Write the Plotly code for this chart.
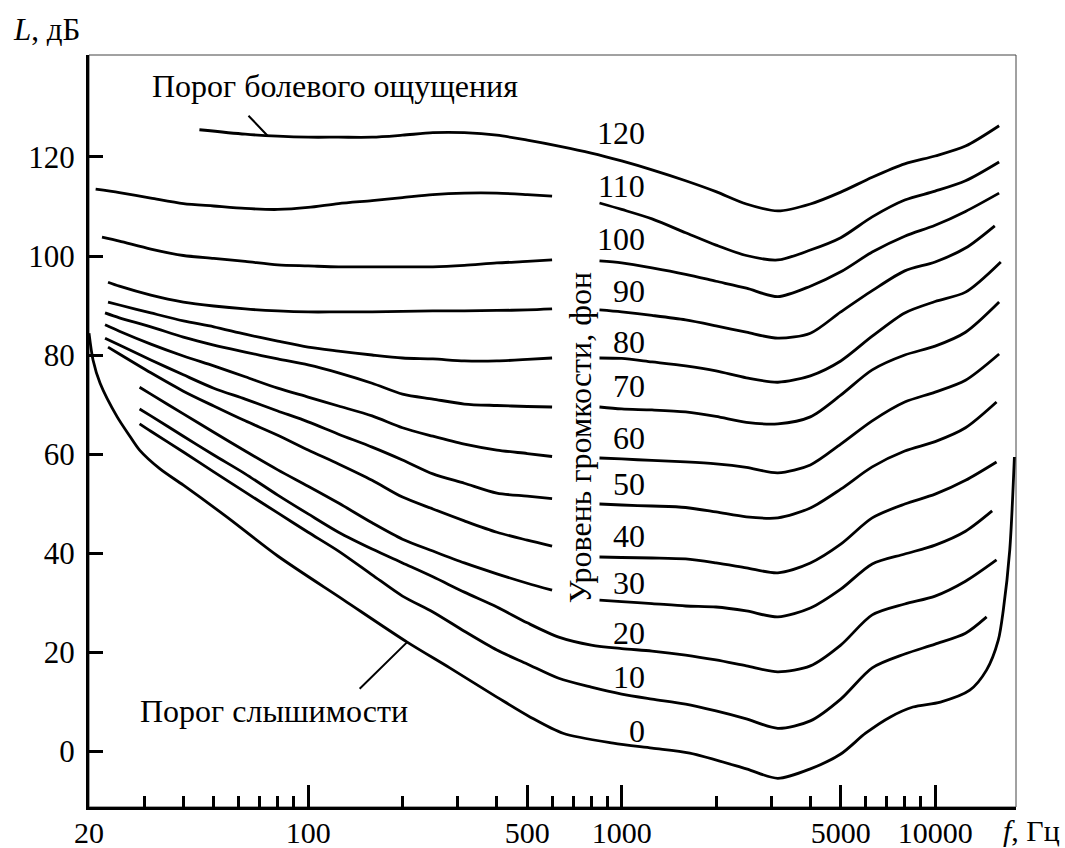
import math
import plotly.graph_objects as go

FONT = "Liberation Serif"

# ---------------- data (frequency in Hz, sound level in dB) ----------------
GL = [25, 31.5, 40, 50, 63, 80, 100, 125, 160, 200, 250, 315, 400, 500, 600]
GR = [850, 1000, 1250, 1600, 2000, 2500, 3150, 4000, 5000, 6300, 8000, 10000, 12500]

freq_120 = [45, 63, 80, 100, 125, 160, 200, 250, 315, 400, 500, 630, 800, 1000, 1250,
            1600, 2000, 2500, 3150, 4000, 5000, 6300, 8000, 10000, 12500, 16000]
level_120 = [125.5, 124.6, 124.2, 124.0, 124.0, 124.0, 124.4, 124.9, 124.9, 124.4, 123.4,
             122.2, 120.8, 119.2, 117.4, 115.2, 113.0, 110.5, 109.1, 110.5, 112.9, 115.9,
             118.6, 120.2, 122.2, 126.3]

freq_110 = [21] + GL + [None] + GR + [16000]
level_110 = [113.5, 112.8, 111.7, 110.6, 110.1, 109.6, 109.4, 109.8, 110.6, 111.2, 111.8,
             112.4, 112.7, 112.7, 112.4, 112.1, None,
             110.7, 109.4, 107.5, 104.7, 102.2, 100.1, 99.2, 101.2, 103.7, 107.9, 111.3,
             113.1, 115.2, 119.0]

freq_100 = [22] + GL + [None] + GR + [16000]
level_100 = [103.8, 103.0, 101.4, 100.1, 99.5, 98.9, 98.2, 98.0, 97.8, 97.8, 97.8, 97.8,
             98.1, 98.6, 98.9, 99.2, None,
             99.0, 98.6, 97.6, 96.3, 94.9, 93.5, 91.8, 93.9, 96.8, 100.8, 104.0, 106.2,
             109.0, 112.7]

freq_90 = [23] + GL + [None] + GR + [15500]
level_90 = [94.7, 93.9, 92.1, 90.7, 89.9, 89.3, 88.9, 88.7, 88.7, 88.7, 88.8, 88.9, 88.9,
            89.0, 89.1, 89.3, None,
            89.1, 88.7, 88.0, 87.1, 85.9, 84.6, 83.4, 84.4, 88.7, 93.0, 97.0, 98.8, 101.6,
            106.1]

freq_80 = [23] + GL + [None] + GR + [16200]
level_80 = [90.7, 90.1, 88.5, 86.9, 85.7, 84.2, 82.8, 81.6, 80.8, 80.0, 79.4, 79.2, 78.8,
            78.8, 79.1, 79.4, None,
            79.4, 79.3, 78.6, 77.8, 76.8, 75.4, 74.5, 75.8, 78.8, 83.8, 88.5, 90.8, 92.7,
            98.8]

freq_70 = [22.5] + GL + [None] + GR + [16000]
level_70 = [88.5, 87.5, 85.7, 83.6, 82.0, 80.6, 79.2, 78.0, 76.4, 74.3, 72.1, 71.1, 70.1,
            69.8, 69.6, 69.5, None,
            69.5, 69.1, 68.9, 68.5, 67.6, 66.4, 66.1, 67.5, 71.9, 77.0, 80.0, 81.8, 84.6,
            90.7]

freq_60 = [22.5] + GL + [None] + GR + [16000]
level_60 = [86.1, 84.8, 82.2, 79.8, 77.8, 75.6, 73.3, 71.5, 69.7, 67.7, 65.3, 63.6, 62.0,
            60.8, 60.1, 59.5, None,
            59.2, 59.0, 58.7, 58.4, 58.0, 57.3, 56.2, 57.8, 62.0, 66.7, 70.5, 72.5, 74.9,
            80.2]

freq_50 = [22.5] + GL + [None] + GR + [15700]
level_50 = [83.4, 82.0, 79.0, 76.0, 73.3, 71.1, 68.7, 66.5, 64.0, 61.4, 58.8, 56.0, 54.1,
            52.1, 51.5, 51.0, None,
            49.9, 49.7, 49.5, 49.2, 48.3, 47.3, 47.1, 49.1, 52.9, 57.4, 60.6, 62.5, 65.3,
            70.5]

freq_40 = [23] + GL + [None] + GR + [15700]
level_40 = [81.6, 80.2, 76.4, 72.7, 69.7, 66.7, 63.8, 60.8, 58.0, 54.7, 51.3, 48.9, 46.5,
            44.2, 42.6, 41.4, None,
            39.2, 39.1, 39.0, 38.8, 38.0, 37.0, 36.0, 38.0, 41.8, 47.1, 49.9, 51.9, 54.7,
            58.4]

freq_30 = [29] + GL[1:] + [None] + GR + [15200]
level_30 = [73.5, 72.1, 68.1, 64.4, 60.6, 56.8, 53.5, 50.1, 46.1, 42.8, 40.4, 38.0, 35.8,
            33.9, 32.5, None,
            30.5, 30.2, 29.8, 29.3, 29.1, 28.3, 27.1, 28.9, 32.7, 37.8, 39.8, 41.6, 44.4,
            48.5]

freq_20 = [29, 31.5, 40, 50, 63, 80, 100, 125, 160, 200, 250, 315, 400, 500, 630, 800,
           1000, 1250, 1600, 2000, 2500, 3150, 4000, 5000, 6300, 8000, 10000, 12500, 15700]
level_20 = [69.1, 67.7, 63.6, 59.8, 56.0, 51.7, 47.9, 44.2, 40.8, 38.0, 35.2, 32.1, 29.1,
            25.9, 23.0, 21.4, 20.7, 20.2, 19.4, 18.4, 17.2, 16.0, 17.2, 21.4, 27.5, 29.7,
            31.3, 34.3, 38.6]

freq_10 = [29, 31.5, 40, 50, 63, 80, 100, 125, 160, 200, 250, 315, 400, 500, 630, 800,
           1000, 1250, 1600, 2000, 2500, 3150, 4000, 5000, 6300, 8000, 10000, 12500, 14600]
level_10 = [66.1, 64.6, 60.4, 56.4, 52.3, 48.1, 44.2, 40.4, 35.6, 31.3, 28.1, 24.2, 20.4,
            17.6, 14.7, 12.9, 11.5, 10.5, 9.5, 8.1, 6.5, 4.6, 6.1, 10.5, 16.8, 19.6, 21.6,
            23.8, 27.1]

freq_0 = [20, 20.6, 21.7, 24.6, 27, 29, 33.7, 40, 55, 80, 130, 207, 283, 400, 510, 650,
          940, 1250, 1650, 2500, 3150, 4000, 5000, 6000, 7200, 8500, 10400, 12900, 14600,
          15900, 16500, 17300, 17900]
level_0 = [84.4, 79.0, 74.3, 67.5, 63.6, 60.8, 57.0, 53.7, 47.3, 39.4, 30.5, 22.0, 16.8,
           10.9, 6.9, 3.6, 1.6, 0.6, -0.4, -3.6, -5.5, -3.6, -0.6, 3.6, 6.9, 8.9, 9.9,
           12.3, 16.4, 22.4, 28.5, 40.6, 59.4]

phons = [120, 110, 100, 90, 80, 70, 60, 50, 40, 30, 20, 10, 0]
curves = [(freq_120, level_120), (freq_110, level_110), (freq_100, level_100),
          (freq_90, level_90), (freq_80, level_80), (freq_70, level_70),
          (freq_60, level_60), (freq_50, level_50), (freq_40, level_40),
          (freq_30, level_30), (freq_20, level_20), (freq_10, level_10),
          (freq_0, level_0)]

x_tick_vals = [20, 100, 500, 1000, 5000, 10000]
x_tick_text = ["20", "100", "500", "1000", "5000", "10000"]
x_minor_vals = [30, 40, 50, 60, 70, 80, 90, 200, 300, 400, 600, 700, 800, 900,
                2000, 3000, 4000, 6000, 7000, 8000, 9000]
y_tick_vals = [0, 20, 40, 60, 80, 100, 120]

# label placement (layout, not data)
label_freq = 1205
label_db = [124.8, 114.2, 103.4, 92.9, 82.6, 73.7, 63.2, 53.9, 43.4, 33.9, 23.8, 14.9, 4.0]

# ---------------- figure ----------------
fig = go.Figure()
for (f, L) in curves:
    fig.add_trace(go.Scatter(
        x=f, y=L, mode="lines", connectgaps=False, hoverinfo="skip", showlegend=False,
        line=dict(color="black", width=2.8, shape="spline", smoothing=0.8)))

fig.update_layout(
    width=1065, height=848,
    margin=dict(l=89, r=49, t=55, b=41, pad=0),
    paper_bgcolor="white", plot_bgcolor="white",
    showlegend=False,
    font=dict(family=FONT, size=31, color="black"),
    xaxis=dict(
        type="log", range=[math.log10(20), math.log10(20) + 927 / 313.5],
        tickmode="array", tickvals=x_tick_vals, ticktext=x_tick_text,
        ticks="inside", ticklen=22, tickwidth=3, tickcolor="black",
        minor=dict(tickmode="array", tickvals=x_minor_vals, ticks="inside",
                   ticklen=11, tickwidth=3, tickcolor="black", showgrid=False),
        showline=True, linecolor="black", linewidth=3, mirror=False,
        showgrid=False, zeroline=False, automargin=False,
        tickfont=dict(family=FONT, size=30, color="black"), ticklabelstandoff=-3),
    yaxis=dict(
        range=[-11.3, 140.6], tickmode="array", tickvals=y_tick_vals,
        ticks="inside", ticklen=14, tickwidth=3, tickcolor="black",
        showline=True, linecolor="black", linewidth=3, mirror=False,
        showgrid=False, zeroline=False, automargin=False,
        tickfont=dict(family=FONT, size=31, color="black"), ticklabelstandoff=5),
)

# thin frame on top/right
fig.add_shape(type="rect", xref="paper", yref="paper", x0=0, y0=0, x1=1, y1=1,
              line=dict(color="#444444", width=1), layer="below")

lab_font = dict(family=FONT, size=32, color="black")
for p, yd in zip(phons, label_db):
    fig.add_annotation(x=math.log10(label_freq), y=yd, text=str(p), showarrow=False,
                       xanchor="right", yanchor="middle", font=lab_font)

fig.add_annotation(x=math.log10(737), y=63.2, text="Уровень громкости, фон",
                   textangle=-90, showarrow=False, font=lab_font,
                   xanchor="center", yanchor="middle")

fig.add_annotation(x=math.log10(121.4), y=134.3, text="Порог болевого ощущения",
                   showarrow=False, font=lab_font, xanchor="center", yanchor="middle")
fig.add_annotation(x=math.log10(74.5), y=124.2, text="", showarrow=True,
                   arrowhead=0, arrowwidth=2, arrowcolor="black", ax=-21, ay=-22,
                   standoff=0, startstandoff=0)

fig.add_annotation(x=math.log10(78.1), y=8.1, text="Порог слышимости",
                   showarrow=False, font=lab_font, xanchor="center", yanchor="middle")
fig.add_annotation(x=math.log10(207), y=22.0, text="", showarrow=True,
                   arrowhead=0, arrowwidth=2, arrowcolor="black", ax=-49, ay=48,
                   standoff=0, startstandoff=0)

fig.add_annotation(xref="paper", yref="paper", x=(11 - 89) / 927, y=(807 - 29) / 752,
                   xanchor="left", yanchor="middle",
                   text="<i>L</i>, дБ", showarrow=False,
                   font=dict(family=FONT, size=31, color="black"))
fig.add_annotation(xref="paper", yref="paper", x=(1062 - 89) / 927, y=(807 - 830) / 752,
                   xanchor="right", yanchor="middle",
                   text="<i>f</i>, Гц", showarrow=False,
                   font=dict(family=FONT, size=30, color="black"))

fig.write_html("out.html", config={"displayModeBar": False},
               post_script="document.body.style.margin='0';document.body.style.overflow='hidden';")
